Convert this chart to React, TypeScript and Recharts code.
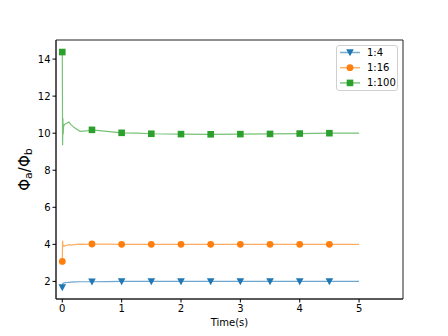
import React from "react";
import {
  ComposedChart,
  Line,
  XAxis,
  YAxis,
  ReferenceArea,
} from "recharts";

// Time samples of the ratio curves (dense near t=0)
const times = [
  0, 0.005, 0.01, 0.015, 0.02, 0.03, 0.05, 0.08, 0.11, 0.15, 0.2, 0.3, 0.4,
  0.5, 0.75, 1, 1.25, 1.5, 2, 2.5, 3, 3.5, 4, 4.5, 5,
];

const ratio4 = [
  1.68, 1.85, 1.9, 1.9, 1.91, 1.92, 1.93, 1.94, 1.95, 1.96, 1.97, 1.98, 1.98,
  1.98, 1.99, 2.0, 2.0, 2.0, 2.0, 2.0, 2.0, 2.0, 2.0, 2.0, 2.0,
];

const ratio16 = [
  3.08, 4.2, 3.95, 3.9, 3.92, 3.93, 3.92, 3.95, 3.98, 3.96, 3.98, 4.01, 4.0,
  4.02, 4.01, 4.0, 4.0, 4.0, 4.0, 4.0, 4.0, 4.0, 4.0, 4.0, 4.0,
];

const ratio100 = [
  14.38, 9.35, 10.8, 9.95, 10.3, 10.45, 10.5, 10.55, 10.6, 10.45, 10.3, 10.1,
  10.12, 10.18, 10.1, 10.02, 10.0, 9.97, 9.95, 9.94, 9.95, 9.96, 9.98, 10.0,
  10.0,
];

// Marker positions (every 0.5 s)
const markerTimes = [0, 0.5, 1, 1.5, 2, 2.5, 3, 3.5, 4, 4.5];

const xTicks = [0, 1, 2, 3, 4, 5];
const yTicks = [2, 4, 6, 8, 10, 12, 14];

const seriesInfo = [
  { key: "r4", name: "1:4", color: "#1f77b4", shape: "triangle" },
  { key: "r16", name: "1:16", color: "#ff7f0e", shape: "circle" },
  { key: "r100", name: "1:100", color: "#2ca02c", shape: "square" },
];

const lineData = times.map((t, i) => ({
  t,
  r4: ratio4[i],
  r16: ratio16[i],
  r100: ratio100[i],
}));

const markerData = markerTimes.map((t) => {
  const i = times.indexOf(t);
  return { t, r4: ratio4[i], r16: ratio16[i], r100: ratio100[i] };
});

const X_DOMAIN: [number, number] = [-0.106, 5.74];
const Y_DOMAIN: [number, number] = [1.05, 15.03];
const FONT = "DejaVu Sans, sans-serif";

const Marker = ({ cx, cy, shape, color }: any) => {
  if (cx == null || cy == null) return null;
  if (shape === "triangle") {
    return (
      <polygon
        points={`${cx - 3.8},${cy - 3.2} ${cx + 3.8},${cy - 3.2} ${cx},${cy + 3.8}`}
        fill={color}
      />
    );
  }
  if (shape === "circle") {
    return <circle cx={cx} cy={cy} r={3.4} fill={color} />;
  }
  return <rect x={cx - 3.3} y={cy - 3.3} width={6.6} height={6.6} fill={color} />;
};

const LegendBox = () => (
  <div
    style={{
      position: "absolute",
      left: 336,
      top: 45,
      width: 62,
      height: 46,
      border: "1px solid #d0d0d0",
      borderRadius: 3,
      background: "rgba(255,255,255,0.8)",
      boxSizing: "border-box",
    }}
  >
    <svg width={60} height={44} style={{ display: "block" }}>
      {seriesInfo.map((s, i) => {
        const y = 6.5 + i * 15.2;
        return (
          <g key={s.key}>
            <line x1={3} x2={23} y1={y} y2={y} stroke={s.color} strokeOpacity={0.6} strokeWidth={1.5} />
            <Marker cx={13} cy={y} shape={s.shape} color={s.color} />
            <text x={30} y={y} dominantBaseline="central" fontSize={10} fontFamily={FONT} fill="#000">
              {s.name}
            </text>
          </g>
        );
      })}
    </svg>
  </div>
);

const YLabel = ({ viewBox }: any) => {
  const cx = 25;
  const cy = viewBox.y + viewBox.height / 2;
  return (
    <text
      x={cx}
      y={cy}
      transform={`rotate(-90, ${cx}, ${cy})`}
      textAnchor="middle"
      dominantBaseline="central"
      fontSize={15}
      fontFamily={FONT}
      fill="#000"
    >
      Φ<tspan fontSize={11} dy={3}>a</tspan>
      <tspan dy={-3}>/Φ</tspan>
      <tspan fontSize={11} dy={3}>b</tspan>
    </text>
  );
};

const XLabel = ({ viewBox }: any) => (
  <text
    x={viewBox.x + viewBox.width / 2}
    y={viewBox.y + 27}
    textAnchor="middle"
    fontSize={10}
    fontFamily={FONT}
    fill="#000"
  >
    Time(s)
  </text>
);

export default function App() {
  return (
    <div style={{ position: "absolute", left: 0, top: 0, width: 448, height: 336, background: "#fff" }}>
      <ComposedChart
        width={448}
        height={336}
        margin={{ top: 40, right: 45, bottom: 0, left: 0 }}
      >
        <XAxis
          dataKey="t"
          type="number"
          domain={X_DOMAIN}
          ticks={xTicks}
          allowDataOverflow
          height={37}
          tick={{ fontSize: 10, fontFamily: FONT, fill: "#000" }}
          tickSize={3.5}
          tickLine={{ stroke: "#000" }}
          axisLine={{ stroke: "#222" }}
          label={<XLabel />}
        />
        <YAxis
          type="number"
          domain={Y_DOMAIN}
          ticks={yTicks}
          allowDataOverflow
          width={56}
          tick={{ fontSize: 10, fontFamily: FONT, fill: "#000" }}
          tickSize={3.5}
          tickLine={{ stroke: "#000" }}
          axisLine={{ stroke: "#222" }}
          label={<YLabel />}
        />
        <ReferenceArea
          x1={X_DOMAIN[0]}
          x2={X_DOMAIN[1]}
          y1={Y_DOMAIN[0]}
          y2={Y_DOMAIN[1]}
          fill="none"
          stroke="#222"
          strokeWidth={1}
          ifOverflow="visible"
        />
        {seriesInfo.map((s) => (
          <Line
            key={`${s.key}-line`}
            data={lineData}
            dataKey={s.key}
            type="linear"
            stroke={s.color}
            strokeOpacity={0.65}
            strokeWidth={1.2}
            dot={false}
            activeDot={false}
            isAnimationActive={false}
            legendType="none"
          />
        ))}
        {seriesInfo.map((s) => (
          <Line
            key={`${s.key}-marks`}
            data={markerData}
            dataKey={s.key}
            stroke="none"
            dot={(p: any) => (
              <Marker key={`${s.key}-${p.index}`} cx={p.cx} cy={p.cy} shape={s.shape} color={s.color} />
            )}
            activeDot={false}
            isAnimationActive={false}
            legendType="none"
          />
        ))}
      </ComposedChart>
      <LegendBox />
    </div>
  );
}
